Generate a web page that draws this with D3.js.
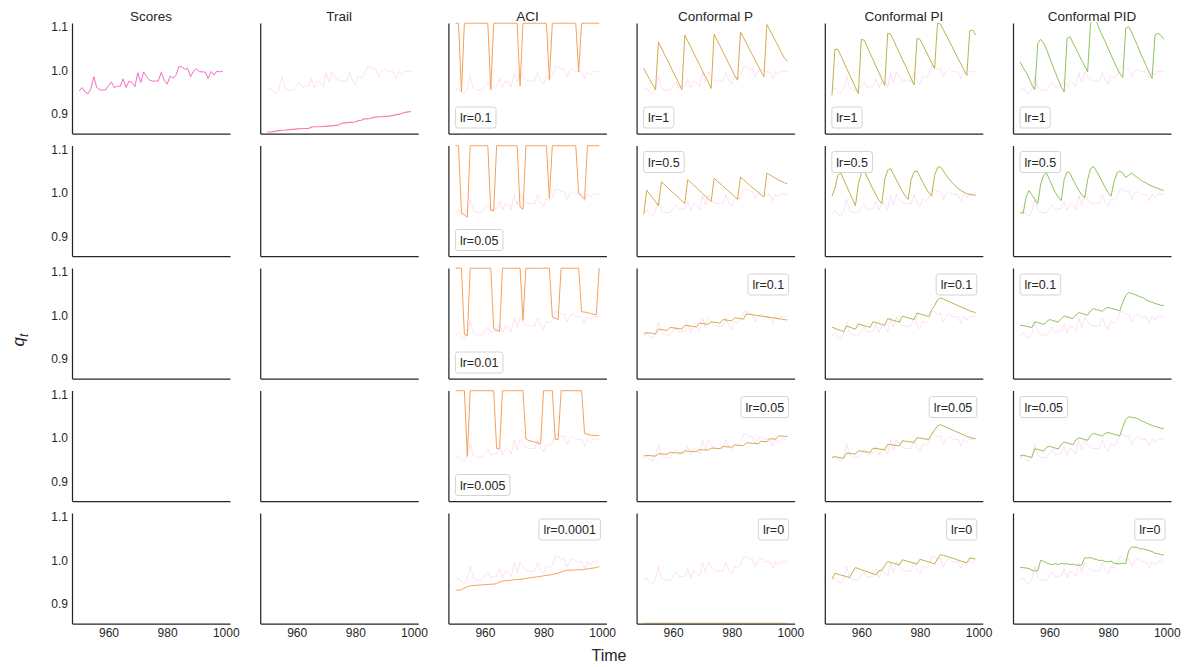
<!DOCTYPE html>
<html>
<head>
<meta charset="utf-8">
<script src="https://cdn.jsdelivr.net/npm/d3@7"></script>
<style>
  body { margin: 0; background: #fff; }
  svg { font-family: "Liberation Sans", Arial, sans-serif; }
</style>
</head>
<body>
<div id="chart"></div>
<script>
// time steps 950..999
const time = d3.range(950, 1000);

const columns = ["Scores", "Trail", "ACI", "Conformal P", "Conformal PI", "Conformal PID"];
const colors = ["#f76bc4", "#f7849b", "#f5a05a", "#d8a94c", "#b8b44a", "#8fc25c"];

const scores = [0.952,0.960,0.950,0.946,0.958,0.985,0.960,0.955,0.954,0.955,0.964,0.973,0.960,0.963,0.963,0.980,0.960,0.975,0.972,0.962,
  0.994,0.972,0.996,0.985,0.977,0.975,0.975,0.975,0.995,0.977,0.968,0.986,0.982,0.988,1.008,1.008,1.002,1.004,0.985,0.998,
  1.003,0.997,0.996,0.996,0.981,0.997,0.989,0.998,0.996,0.998];

const trail = [0.858,0.858,0.859,0.860,0.861,0.862,0.862,0.863,0.864,0.864,0.865,0.865,0.866,0.866,0.866,0.869,0.870,0.870,0.870,0.871,
  0.871,0.872,0.872,0.873,0.873,0.877,0.879,0.879,0.880,0.880,0.881,0.884,0.885,0.888,0.888,0.889,0.891,0.892,0.893,0.893,
  0.894,0.894,0.895,0.896,0.898,0.899,0.901,0.903,0.904,0.905];

// ACI (1.108 = pinned at the top of the plotted range)
const aciRates = ["0.1", "0.05", "0.01", "0.005", "0.0001"];
const aci_0_1 = [1.108,1.108,0.950,1.108,1.108,1.108,1.108,1.108,1.108,1.108,1.108,1.108,0.955,1.108,1.108,1.108,1.108,1.108,1.108,1.108,
  1.108,1.108,0.964,1.108,1.108,1.108,1.108,1.108,1.108,1.108,1.108,1.108,0.977,1.108,1.108,1.108,1.108,1.108,1.108,1.108,
  1.108,1.108,0.996,1.108,1.108,1.108,1.108,1.108,1.108,1.108];
const aci_0_05 = [1.108,1.108,0.953,0.950,0.943,1.108,1.108,1.108,1.108,1.108,1.108,1.108,0.960,0.958,1.108,1.108,1.108,1.108,1.108,1.108,
  1.108,1.108,0.967,0.962,1.108,1.108,1.108,1.108,1.108,1.108,1.108,1.108,0.987,1.108,1.108,1.108,1.108,1.108,1.108,1.108,
  1.108,1.108,0.999,0.992,0.985,1.108,1.108,1.108,1.108,1.108];
const aci_0_01 = [1.108,1.108,1.108,0.956,0.953,1.108,1.108,1.108,1.108,1.108,1.108,1.108,1.108,0.969,0.966,0.962,1.108,1.108,1.108,1.108,
  1.108,1.108,1.108,0.988,1.108,1.108,1.108,1.108,1.108,1.108,1.108,1.108,1.108,0.996,0.993,0.990,1.108,1.108,1.108,1.108,
  1.108,1.108,1.108,1.008,1.007,1.006,1.004,1.002,1.001,1.108];
const aci_0_005 = [1.108,1.108,1.108,1.108,0.957,1.108,1.108,1.108,1.108,1.108,1.108,1.108,1.108,1.108,0.975,0.975,1.108,1.108,1.108,1.108,
  1.108,1.108,1.108,1.108,0.997,0.993,0.992,0.990,0.988,0.986,1.108,1.108,1.108,1.108,0.996,0.996,1.108,1.108,1.108,1.108,
  1.108,1.108,1.108,1.108,1.010,1.008,1.006,1.005,1.005,1.005];
const aci_0_0001 = [0.931,0.931,0.932,0.936,0.939,0.941,0.942,0.942,0.943,0.943,0.944,0.944,0.945,0.945,0.946,0.950,0.952,0.953,0.953,0.954,
  0.955,0.956,0.956,0.957,0.958,0.959,0.960,0.961,0.962,0.963,0.964,0.965,0.966,0.967,0.969,0.970,0.973,0.975,0.977,0.977,
  0.977,0.978,0.978,0.978,0.979,0.980,0.981,0.982,0.983,0.985];

// Conformal P / PI / PID learning rates
const pidRates = ["1", "0.5", "0.1", "0.05", "0"];

const p_1 = [1.004,0.991,0.979,0.967,0.955,1.065,1.051,1.037,1.024,1.010,0.996,0.983,0.969,0.955,1.081,1.067,1.054,1.040,1.026,1.013,
  0.999,0.985,0.972,0.958,1.083,1.069,1.056,1.042,1.029,1.015,1.002,0.988,0.977,1.088,1.075,1.062,1.049,1.036,1.023,1.010,
  0.997,0.985,1.105,1.092,1.079,1.066,1.053,1.040,1.028,1.020];
const p_0_5 = [0.951,1.006,0.997,0.988,0.979,0.970,1.025,1.019,1.013,1.006,1.000,0.994,0.987,0.981,0.975,1.030,1.024,1.018,1.011,1.005,
  0.999,0.992,0.986,0.980,1.033,1.027,1.021,1.015,1.009,1.003,0.997,0.991,0.985,1.036,1.030,1.024,1.018,1.012,1.007,1.001,
  0.995,0.990,1.045,1.041,1.037,1.033,1.029,1.026,1.023,1.020];
const p_0_1 = [0.958,0.960,0.959,0.958,0.957,0.968,0.967,0.966,0.965,0.972,0.971,0.970,0.969,0.968,0.977,0.976,0.975,0.974,0.973,0.982,
  0.981,0.980,0.979,0.985,0.984,0.983,0.982,0.990,0.989,0.988,0.987,0.994,0.993,0.992,0.991,1.003,1.002,1.001,1.000,0.999,
  0.998,0.997,0.996,0.995,0.994,0.993,0.992,0.991,0.990,0.989];
const p_0_05 = [0.958,0.959,0.959,0.958,0.958,0.963,0.963,0.962,0.962,0.966,0.966,0.965,0.965,0.965,0.970,0.969,0.969,0.968,0.968,0.973,
  0.972,0.972,0.972,0.976,0.976,0.975,0.975,0.980,0.979,0.979,0.978,0.983,0.983,0.982,0.982,0.988,0.988,0.987,0.987,0.986,
  0.992,0.991,0.991,0.998,0.997,0.997,1.004,1.004,1.003,1.003];
const p_0 = [0.855,0.855,0.855,0.855,0.855,0.855,0.855,0.855,0.855,0.855,0.855,0.855,0.855,0.855,0.855,0.855,0.855,0.855,0.855,0.855,
  0.855,0.855,0.855,0.855,0.855,0.855,0.855,0.855,0.855,0.855,0.855,0.855,0.855,0.855,0.855,0.855,0.855,0.855,0.855,0.855,
  0.855,0.855,0.855,0.855,0.855,0.855,0.855,0.855,0.855,0.855];

const pi_1 = [0.942,1.048,1.048,1.034,1.019,1.004,0.990,0.975,0.960,0.946,1.071,1.069,1.054,1.039,1.024,1.009,0.995,0.980,0.965,1.085,
  1.083,1.069,1.054,1.040,1.025,1.011,0.996,0.981,0.966,1.073,1.071,1.058,1.044,1.031,1.017,1.004,1.108,1.106,1.093,1.080,
  1.067,1.054,1.040,1.027,1.014,1.001,0.988,1.091,1.092,1.081];
const pi_0_5 = [0.992,1.010,1.040,1.045,1.030,1.015,1.000,0.985,0.970,1.020,1.045,1.050,1.036,1.022,1.008,0.995,0.982,0.975,1.030,1.052,
  1.055,1.042,1.029,1.016,1.003,0.992,0.985,1.030,1.048,1.050,1.037,1.024,1.011,1.000,0.992,1.040,1.058,1.060,1.050,1.040,
  1.031,1.023,1.016,1.010,1.005,1.001,0.998,0.996,0.995,0.994];
const pi_0_1 = [0.972,0.970,0.967,0.965,0.962,0.975,0.973,0.970,0.968,0.980,0.978,0.976,0.974,0.972,0.985,0.983,0.981,0.979,0.977,0.992,
  0.990,0.988,0.986,0.984,0.998,0.996,0.994,0.992,0.990,1.005,1.003,1.001,0.999,0.997,1.012,1.022,1.035,1.040,1.037,1.034,
  1.031,1.028,1.025,1.022,1.019,1.016,1.013,1.010,1.008,1.006];
const pi_0_05 = [0.955,0.956,0.955,0.954,0.953,0.965,0.964,0.963,0.962,0.970,0.969,0.968,0.967,0.966,0.976,0.975,0.974,0.973,0.972,0.985,
  0.984,0.983,0.982,0.981,0.993,0.992,0.991,0.990,0.989,1.000,0.999,0.998,0.997,0.996,1.008,1.018,1.027,1.030,1.027,1.024,
  1.021,1.018,1.015,1.012,1.009,1.006,1.003,1.001,0.999,0.998];
const pi_0 = [0.957,0.970,0.968,0.966,0.964,0.962,0.960,0.972,0.983,0.981,0.978,0.976,0.974,0.971,0.969,0.966,0.976,0.977,0.987,0.997,
  0.995,0.993,0.991,0.989,1.001,0.999,0.997,0.995,0.993,0.991,1.002,1.000,0.998,0.996,0.994,0.991,1.003,1.013,1.011,1.009,
  1.007,1.005,1.003,1.000,0.998,0.996,0.994,1.005,1.004,1.003];

const pid_1 = [1.019,1.006,0.995,0.982,0.966,0.955,1.062,1.071,1.062,1.048,1.030,1.012,0.995,0.978,0.962,0.950,1.073,1.077,1.063,1.050,
  1.036,1.022,1.010,0.996,1.108,1.115,1.112,1.095,1.080,1.066,1.050,1.035,1.020,1.005,0.992,0.983,1.096,1.100,1.088,1.072,
  1.057,1.040,1.025,1.010,0.995,0.981,1.081,1.085,1.080,1.071];
const pid_0_5 = [0.955,0.952,0.990,1.005,0.995,0.985,0.975,1.020,1.040,1.045,1.030,1.015,1.000,0.990,0.982,1.030,1.048,1.045,1.030,1.018,
  1.005,0.995,0.988,1.030,1.055,1.060,1.050,1.038,1.025,1.012,1.000,0.992,1.025,1.045,1.050,1.045,1.035,1.040,1.045,1.040,
  1.035,1.030,1.025,1.022,1.018,1.015,1.012,1.010,1.007,1.005];
const pid_0_1 = [0.977,0.976,0.975,0.973,0.972,0.985,0.983,0.981,0.979,0.985,0.990,0.988,0.986,0.984,0.992,0.998,0.996,0.994,0.992,1.000,
  1.006,1.004,1.002,1.000,1.010,1.015,1.013,1.011,1.009,1.015,1.018,1.016,1.014,1.012,1.010,1.030,1.045,1.052,1.050,1.048,
  1.045,1.042,1.040,1.035,1.032,1.030,1.027,1.025,1.023,1.022];
const pid_0_05 = [0.958,0.960,0.958,0.956,0.955,0.975,0.973,0.971,0.969,0.978,0.980,0.978,0.976,0.974,0.985,0.990,0.988,0.986,0.984,0.995,
  1.000,0.998,0.996,0.994,1.005,1.010,1.008,1.006,1.004,1.010,1.012,1.010,1.008,1.006,1.004,1.025,1.042,1.048,1.047,1.046,
  1.044,1.040,1.037,1.034,1.031,1.028,1.026,1.024,1.022,1.021];
const pid_0 = [0.983,0.983,0.982,0.981,0.977,0.975,0.976,1.000,0.997,0.994,0.991,0.990,0.992,0.990,0.993,0.991,0.992,0.990,0.991,0.989,
  0.988,0.989,1.006,1.005,1.006,1.003,1.002,0.999,1.000,0.997,0.996,0.998,0.993,0.992,0.992,0.993,0.992,1.022,1.030,1.030,
  1.029,1.026,1.026,1.024,1.022,1.020,1.016,1.015,1.013,1.012];

// legend placement per row: ll = lower left, ul = upper left, ur = upper right
const aciLoc = ["ll", "ll", "ll", "ll", "ur"];
const pLoc = ["ll", "ul", "ur", "ur", "ur"];
const piLoc = ["ll", "ul", "ur", "ur", "ur"];
const pidLoc = ["ll", "ul", "ul", "ul", "ur"];

const seriesByCol = {
  2: [aci_0_1, aci_0_05, aci_0_01, aci_0_005, aci_0_0001],
  3: [p_1, p_0_5, p_0_1, p_0_05, p_0],
  4: [pi_1, pi_0_5, pi_0_1, pi_0_05, pi_0],
  5: [pid_1, pid_0_5, pid_0_1, pid_0_05, pid_0]
};
const ratesByCol = { 2: aciRates, 3: pidRates, 4: pidRates, 5: pidRates };
const locByCol = { 2: aciLoc, 3: pLoc, 4: piLoc, 5: pidLoc };

const ink = "#262626";
const left0 = 72, top0 = 23, colStep = 188.2, rowStep = 122.5;
const pw = 158, ph = 110.5;

const svg = d3.select("#chart").append("svg")
    .attr("width", 1186)
    .attr("height", 667);

const x = d3.scaleLinear().domain([947.55, 1001.45]).range([0, pw]);
const y = d3.scaleLinear().domain([0.8545, 1.1085]).range([ph, 0]);
const line = d3.line()
    .x(function(d, i){ return x(time[i]); })
    .y(function(d){ return y(d); });

for (let r = 0; r < 5; r++) {
  for (let c = 0; c < 6; c++) {
    const g = svg.append("g")
        .attr("transform", "translate(" + (left0 + c * colStep) + "," + (top0 + r * rowStep) + ")");
    const clipId = "clip-" + r + "-" + c;
    g.append("clipPath").attr("id", clipId)
      .append("rect").attr("x", 0).attr("y", -1).attr("width", pw).attr("height", ph + 1);
    const plot = g.append("g").attr("clip-path", "url(#" + clipId + ")");

    if (c === 0 && r === 0) {
      plot.append("path").datum(scores)
          .attr("d", line).attr("fill", "none")
          .attr("stroke", colors[0]).attr("stroke-width", 1);
    }
    if (c === 1 && r === 0) {
      plot.append("path").datum(scores)
          .attr("d", line).attr("fill", "none")
          .attr("stroke", colors[0]).attr("stroke-opacity", 0.2).attr("stroke-width", 1);
      plot.append("path").datum(trail)
          .attr("d", line).attr("fill", "none")
          .attr("stroke", colors[1]).attr("stroke-width", 1.2);
    }
    if (c >= 2) {
      plot.append("path").datum(scores)
          .attr("d", line).attr("fill", "none")
          .attr("stroke", colors[0]).attr("stroke-opacity", 0.2).attr("stroke-width", 1);
      plot.append("path").datum(seriesByCol[c][r])
          .attr("d", line).attr("fill", "none")
          .attr("stroke", colors[c]).attr("stroke-width", 1)
          .attr("stroke-linejoin", "round");
    }

    // axes (left and bottom spines only)
    const ya = d3.axisLeft(y).tickValues([0.9, 1.0, 1.1]).tickSize(0).tickPadding(4)
        .tickFormat(c === 0 ? d3.format(".1f") : "");
    const xa = d3.axisBottom(x).tickValues([960, 980, 1000]).tickSize(0).tickPadding(5)
        .tickFormat(r === 4 ? d3.format("d") : "");
    const yg = g.append("g").call(ya);
    const xg = g.append("g").attr("transform", "translate(0," + ph + ")").call(xa);
    [yg, xg].forEach(function(a){
      a.select(".domain").attr("stroke", ink).attr("stroke-width", 1.25);
      a.selectAll("text").attr("fill", ink).style("font-size", "12px")
        .style("font-family", "'Liberation Sans', Arial, sans-serif");
    });

    if (r === 0) {
      g.append("text").text(columns[c])
          .attr("x", pw / 2).attr("y", -2)
          .attr("text-anchor", "middle")
          .attr("fill", ink).style("font-size", "13.5px");
    }

    // legend box
    if (c >= 2) {
      const loc = locByCol[c][r];
      const lg = g.append("g");
      const rect = lg.append("rect");
      const t = lg.append("text").text("lr=" + ratesByCol[c][r])
          .attr("fill", ink).style("font-size", "12.5px");
      const tw = t.node().getComputedTextLength();
      const bw = tw + 9, bh = 21;
      const bx = loc === "ur" ? pw - 6 - bw : 7;
      const by = loc === "ll" ? ph - 5.5 - bh : 6;
      rect.attr("x", bx).attr("y", by).attr("width", bw).attr("height", bh)
          .attr("rx", 2.5).attr("fill", "#fff").attr("fill-opacity", 0.8)
          .attr("stroke", "#d4d4d4").attr("stroke-width", 1);
      t.attr("x", bx + 4.5).attr("y", by + 15);
    }
  }
}

// shared axis labels
const ql = svg.append("text")
    .attr("transform", "translate(24,340) rotate(-90)")
    .attr("text-anchor", "middle")
    .attr("fill", ink).style("font-size", "17px");
ql.append("tspan").text("q").style("font-style", "italic");
ql.append("tspan").text("t").style("font-style", "italic")
    .style("font-size", "12px").attr("dy", 4);

svg.append("text").text("Time")
    .attr("x", 609).attr("y", 661)
    .attr("text-anchor", "middle")
    .attr("fill", ink).style("font-size", "16px");
</script>
</body>
</html>
